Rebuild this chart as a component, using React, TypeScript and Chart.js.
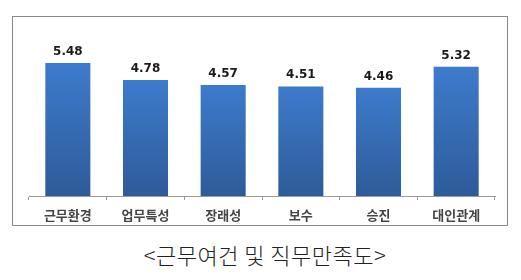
import React, { useEffect, useRef } from "react";
import { Chart, registerables } from "chart.js";

Chart.register(...registerables);

const categories: string[] = ["근무환경", "업무특성", "장래성", "보수", "승진", "대인관계"];
const scores: number[] = [5.48, 4.78, 4.57, 4.51, 4.46, 5.32];
const captionText = "<근무여건 및 직무만족도>";
const yMin = 0;
const yMax = 7;

const valueLabels = {
  id: "valueLabels",
  afterDatasetsDraw(chart: any) {
    const ctx = chart.ctx;
    const meta = chart.getDatasetMeta(0);
    ctx.save();
    ctx.font = "bold 12px 'DejaVu Sans', Verdana, sans-serif";
    ctx.fillStyle = "#1a1a1a";
    ctx.textAlign = "center";
    ctx.textBaseline = "alphabetic";
    meta.data.forEach((bar: any, i: number) => {
      ctx.fillText(scores[i].toFixed(2), bar.x, bar.y - 8);
    });
    ctx.restore();
  },
};

export default function App() {
  const ref = useRef<HTMLCanvasElement | null>(null);

  useEffect(() => {
    if (!ref.current) return;
    const chart = new Chart(ref.current, {
      type: "bar",
      data: {
        labels: categories,
        datasets: [
          {
            data: scores,
            backgroundColor: (c: any) => {
              const ch = c.chart;
              const ys = ch.scales && ch.scales.y;
              if (!ch.chartArea || !ys || c.raw === undefined) return "#3468B3";
              const top = ys.getPixelForValue(c.raw);
              const bottom = ys.getPixelForValue(0);
              if (!isFinite(top) || !isFinite(bottom) || top === bottom) return "#3468B3";
              const g = ch.ctx.createLinearGradient(0, top, 0, bottom);
              g.addColorStop(0, "#3D7BCC");
              g.addColorStop(1, "#2E5B99");
              return g;
            },
            borderWidth: 0,
            barPercentage: 0.58,
            categoryPercentage: 1,
          },
        ],
      },
      options: {
        responsive: false,
        animation: false,
        layout: { padding: { left: 16, right: 12, top: 9, bottom: 0 } },
        plugins: {
          legend: { display: false },
          tooltip: { enabled: false },
          title: { display: false },
        },
        scales: {
          x: {
            afterFit: (s: any) => {
              s.height = 29;
            },
            grid: {
              display: true,
              drawOnChartArea: false,
              drawTicks: true,
              tickLength: 4,
              color: "#9a9a9a",
              offset: true,
            },
            border: { display: true, color: "#9a9a9a", width: 1 },
            ticks: {
              color: "#454545",
              padding: 7,
              font: { family: "'Noto Sans CJK KR', sans-serif", size: 13, weight: "bold" },
              maxRotation: 0,
              autoSkip: false,
            },
          },
          y: {
            display: false,
            min: yMin,
            max: yMax,
          },
        },
      },
      plugins: [valueLabels],
    });
    return () => chart.destroy();
  }, []);

  return (
    <div style={{ position: "absolute", left: 0, top: 0, width: 521, height: 280, background: "#ffffff" }}>
      <div
        style={{
          position: "absolute",
          left: 12,
          top: 16,
          width: 496,
          height: 210,
          boxSizing: "border-box",
          border: "1px solid #8a8a8a",
        }}
      >
        <canvas ref={ref} width={494} height={208} style={{ display: "block", width: 494, height: 208 }} />
      </div>
      <div
        style={{
          position: "absolute",
          left: 0,
          top: 241,
          width: 530,
          textAlign: "center",
          fontFamily: "'Noto Sans CJK KR', sans-serif",
          fontSize: 22,
          fontWeight: 300,
          letterSpacing: 0.5,
          lineHeight: "26px",
          color: "#222222",
          whiteSpace: "nowrap",
        }}
      >
        {captionText}
      </div>
    </div>
  );
}
